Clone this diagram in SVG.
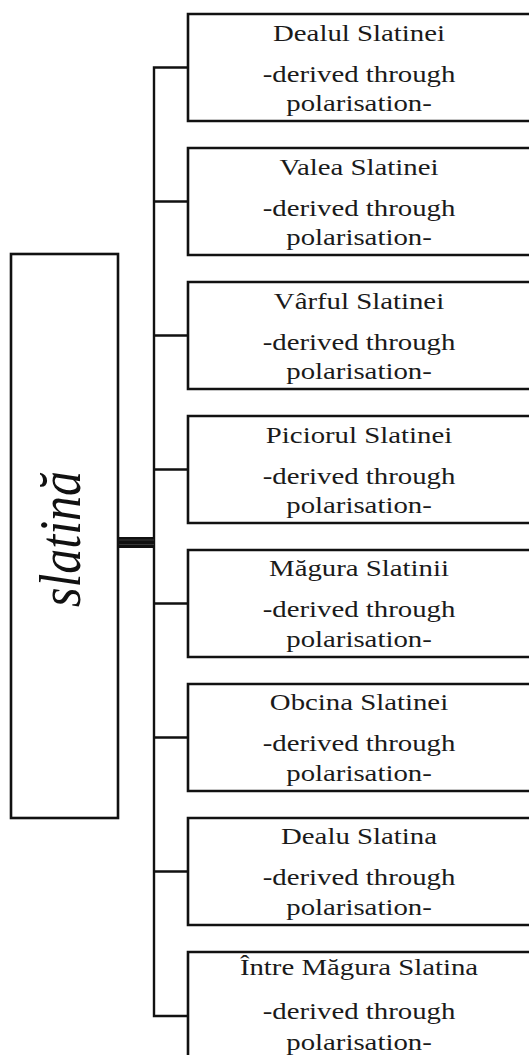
<svg xmlns="http://www.w3.org/2000/svg" width="529" height="1055" viewBox="0 0 529 1055">
<style>
.box{fill:none;stroke:#111;stroke-width:2.6}
.wire{fill:none;stroke:#111;stroke-width:2.4}
.t{font-family:"Liberation Serif","Times New Roman",serif;font-size:24px;fill:#1a1a1a;text-anchor:middle}
.big{font-family:"Liberation Serif","Times New Roman",serif;font-style:italic;font-size:60px;fill:#111;text-anchor:middle}
</style>
<rect width="529" height="1055" fill="#fff"/>
<g id="connectors">
<path class="wire" d="M188 67.5 H154 V1016 H188"/>
<path class="wire" d="M154 201.5 H188 M154 335.5 H188 M154 469.5 H188 M154 603.5 H188 M154 737.5 H188 M154 871.5 H188"/>
<rect x="118" y="537" width="36" height="11" fill="#111"/>
<line x1="118" y1="540" x2="154" y2="540" stroke="#444" stroke-width="0.8"/>
<line x1="118" y1="544.5" x2="154" y2="544.5" stroke="#444" stroke-width="0.8"/>
</g>
<g id="root">
<rect class="box" x="11" y="254" width="107" height="564"/>
<text class="big" transform="translate(80 539) rotate(-90)" textLength="136" lengthAdjust="spacingAndGlyphs">slatină</text>
</g>
<g id="n1">
<path class="box" d="M540 14 H188 V121 H540"/>
<text class="t" transform="translate(359 41) scale(1.2 1)">Dealul Slatinei</text>
<text class="t" transform="translate(359 82) scale(1.2 1)">-derived through</text>
<text class="t" transform="translate(359 111) scale(1.2 1)">polarisation-</text>
</g>
<g id="n2">
<path class="box" d="M540 148 H188 V255 H540"/>
<text class="t" transform="translate(359 175) scale(1.2 1)">Valea Slatinei</text>
<text class="t" transform="translate(359 216) scale(1.2 1)">-derived through</text>
<text class="t" transform="translate(359 245) scale(1.2 1)">polarisation-</text>
</g>
<g id="n3">
<path class="box" d="M540 282 H188 V389 H540"/>
<text class="t" transform="translate(359 309) scale(1.2 1)">Vârful Slatinei</text>
<text class="t" transform="translate(359 350) scale(1.2 1)">-derived through</text>
<text class="t" transform="translate(359 379) scale(1.2 1)">polarisation-</text>
</g>
<g id="n4">
<path class="box" d="M540 416 H188 V523 H540"/>
<text class="t" transform="translate(359 443) scale(1.2 1)">Piciorul Slatinei</text>
<text class="t" transform="translate(359 484) scale(1.2 1)">-derived through</text>
<text class="t" transform="translate(359 513) scale(1.2 1)">polarisation-</text>
</g>
<g id="n5">
<path class="box" d="M540 550 H188 V657 H540"/>
<text class="t" transform="translate(359 576) scale(1.2 1)">Măgura Slatinii</text>
<text class="t" transform="translate(359 617) scale(1.2 1)">-derived through</text>
<text class="t" transform="translate(359 647) scale(1.2 1)">polarisation-</text>
</g>
<g id="n6">
<path class="box" d="M540 684 H188 V791 H540"/>
<text class="t" transform="translate(359 710) scale(1.2 1)">Obcina Slatinei</text>
<text class="t" transform="translate(359 751) scale(1.2 1)">-derived through</text>
<text class="t" transform="translate(359 781) scale(1.2 1)">polarisation-</text>
</g>
<g id="n7">
<path class="box" d="M540 818 H188 V925 H540"/>
<text class="t" transform="translate(359 844) scale(1.2 1)">Dealu Slatina</text>
<text class="t" transform="translate(359 885) scale(1.2 1)">-derived through</text>
<text class="t" transform="translate(359 915) scale(1.2 1)">polarisation-</text>
</g>
<g id="n8">
<path class="box" d="M540 952 H188 V1060"/>
<text class="t" transform="translate(359 975) scale(1.2 1)">Între Măgura Slatina</text>
<text class="t" transform="translate(359 1019) scale(1.2 1)">-derived through</text>
<text class="t" transform="translate(359 1050) scale(1.2 1)">polarisation-</text>
</g>
</svg>
